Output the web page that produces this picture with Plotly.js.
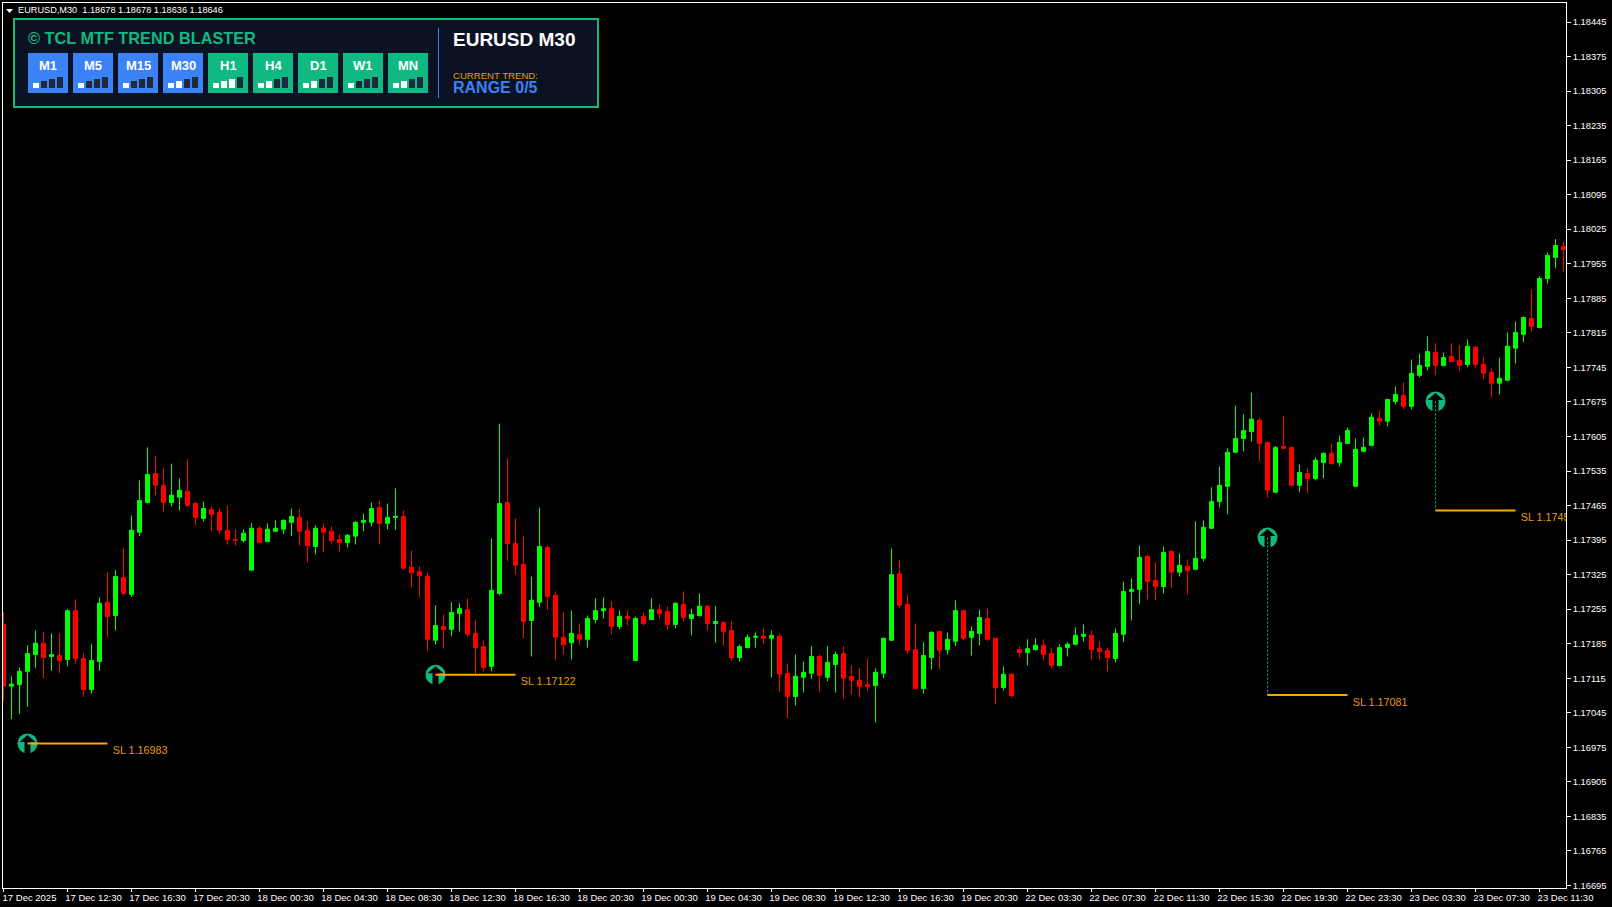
<!DOCTYPE html>
<html><head><meta charset="utf-8">
<script src="https://cdn.plot.ly/plotly-3.0.1.min.js"></script>
<style>html,body{margin:0;padding:0;background:#000;overflow:hidden}#c{width:1612px;height:907px}</style>
</head><body><div id="c"></div>
<script>
const openP=[1.17224,1.17099,1.17102,1.17129,1.17163,1.17186,1.17159,1.17161,1.17153,1.17252,1.17155,1.17092,1.17149,1.17269,1.17242,1.17319,1.17285,1.17411,1.17471,1.17530,1.17506,1.17471,1.17482,1.17494,1.17469,1.17439,1.17457,1.17451,1.17415,1.17396,1.17394,1.17334,1.17419,1.17392,1.17413,1.17417,1.17431,1.17441,1.17415,1.17382,1.17419,1.17413,1.17396,1.17390,1.17403,1.17431,1.17431,1.17461,1.17429,1.17441,
1.17443,1.17340,1.17331,1.17321,1.17192,1.17220,1.17214,1.17246,1.17254,1.17206,1.17179,1.17139,1.17287,1.17471,1.17388,1.17346,1.17232,1.17269,1.17380,1.17283,1.17198,1.17187,1.17204,1.17194,1.17234,1.17252,1.17256,1.17220,1.17240,1.17151,1.17240,1.17234,1.17254,1.17250,1.17224,1.17265,1.17236,1.17242,1.17261,1.17226,1.17228,1.17212,1.17157,1.17177,1.17198,1.17200,1.17196,1.17200,1.17125,1.17078,
1.17117,1.17125,1.17159,1.17117,1.17143,1.17165,1.17119,1.17111,1.17102,1.17100,1.17125,1.17192,1.17327,1.17265,1.17173,1.17094,1.17157,1.17210,1.17173,1.17190,1.17252,1.17198,1.17206,1.17236,1.17196,1.17096,1.17123,1.17173,1.17167,1.17173,1.17182,1.17165,1.17141,1.17177,1.17184,1.17200,1.17202,1.17175,1.17171,1.17155,1.17204,1.17291,1.17295,1.17362,1.17313,1.17301,1.17372,1.17330,1.17342,1.17336,
1.17358,1.17419,1.17473,1.17504,1.17573,1.17601,1.17615,1.17638,1.17593,1.17492,1.17585,1.17583,1.17506,1.17530,1.17520,1.17552,1.17571,1.17552,1.17591,1.17504,1.17575,1.17587,1.17642,1.17636,1.17676,1.17688,1.17666,1.17729,1.17747,1.17775,1.17749,1.17767,1.17759,1.17751,1.17786,1.17751,1.17735,1.17713,1.17719,1.17784,1.17812,1.17844,1.17826,1.17925,1.17968,1.17990];
const highP=[1.17249,1.17119,1.17137,1.17182,1.17212,1.17208,1.17206,1.17206,1.17255,1.17275,1.17165,1.17184,1.17279,1.17330,1.17334,1.17380,1.17445,1.17516,1.17583,1.17565,1.17542,1.17550,1.17520,1.17559,1.17473,1.17473,1.17463,1.17459,1.17465,1.17417,1.17417,1.17429,1.17423,1.17429,1.17435,1.17437,1.17459,1.17457,1.17433,1.17425,1.17429,1.17423,1.17407,1.17407,1.17433,1.17449,1.17471,1.17475,1.17469,1.17500,
1.17455,1.17374,1.17342,1.17329,1.17263,1.17244,1.17269,1.17267,1.17277,1.17234,1.17192,1.17398,1.17631,1.17561,1.17439,1.17404,1.17321,1.17461,1.17384,1.17291,1.17250,1.17252,1.17226,1.17242,1.17277,1.17279,1.17271,1.17252,1.17252,1.17240,1.17248,1.17277,1.17265,1.17261,1.17269,1.17291,1.17256,1.17287,1.17263,1.17261,1.17230,1.17230,1.17183,1.17204,1.17208,1.17218,1.17212,1.17206,1.17145,1.17163,
1.17149,1.17180,1.17163,1.17180,1.17169,1.17180,1.17141,1.17135,1.17155,1.17135,1.17196,1.17378,1.17354,1.17285,1.17226,1.17188,1.17210,1.17210,1.17208,1.17273,1.17254,1.17220,1.17254,1.17256,1.17196,1.17139,1.17125,1.17180,1.17194,1.17196,1.17194,1.17177,1.17184,1.17188,1.17218,1.17224,1.17212,1.17190,1.17177,1.17216,1.17311,1.17317,1.17384,1.17366,1.17350,1.17382,1.17376,1.17368,1.17356,1.17433,
1.17435,1.17502,1.17544,1.17581,1.17668,1.17650,1.17694,1.17642,1.17593,1.17585,1.17646,1.17583,1.17548,1.17542,1.17563,1.17571,1.17591,1.17607,1.17623,1.17601,1.17603,1.17652,1.17658,1.17680,1.17706,1.17715,1.17761,1.17773,1.17808,1.17794,1.17775,1.17794,1.17790,1.17802,1.17788,1.17765,1.17743,1.17765,1.17816,1.17838,1.17848,1.17903,1.17930,1.17978,1.18005,1.18000];
const lowP=[1.17067,1.17032,1.17042,1.17057,1.17136,1.17115,1.17130,1.17125,1.17139,1.17144,1.17077,1.17084,1.17130,1.17198,1.17212,1.17284,1.17280,1.17403,1.17471,1.17486,1.17453,1.17463,1.17455,1.17463,1.17425,1.17433,1.17413,1.17407,1.17386,1.17384,1.17390,1.17334,1.17390,1.17392,1.17413,1.17407,1.17403,1.17384,1.17350,1.17366,1.17370,1.17386,1.17372,1.17380,1.17386,1.17413,1.17423,1.17386,1.17417,1.17415,
1.17335,1.17299,1.17279,1.17171,1.17183,1.17175,1.17200,1.17210,1.17200,1.17123,1.17129,1.17129,1.17283,1.17352,1.17325,1.17196,1.17159,1.17259,1.17254,1.17151,1.17163,1.17153,1.17183,1.17177,1.17226,1.17236,1.17204,1.17214,1.17222,1.17151,1.17222,1.17234,1.17236,1.17214,1.17216,1.17230,1.17202,1.17240,1.17212,1.17187,1.17181,1.17151,1.17149,1.17177,1.17177,1.17185,1.17117,1.17088,1.17034,1.17060,
1.17086,1.17113,1.17086,1.17109,1.17086,1.17074,1.17082,1.17076,1.17090,1.17025,1.17115,1.17190,1.17258,1.17165,1.17094,1.17084,1.17133,1.17133,1.17163,1.17180,1.17192,1.17161,1.17182,1.17190,1.17062,1.17090,1.17076,1.17157,1.17141,1.17171,1.17151,1.17135,1.17139,1.17159,1.17182,1.17190,1.17153,1.17153,1.17129,1.17147,1.17188,1.17232,1.17265,1.17275,1.17273,1.17287,1.17297,1.17321,1.17285,1.17334,
1.17352,1.17417,1.17461,1.17447,1.17571,1.17575,1.17595,1.17554,1.17481,1.17490,1.17579,1.17506,1.17492,1.17490,1.17516,1.17520,1.17548,1.17544,1.17591,1.17504,1.17573,1.17585,1.17627,1.17625,1.17670,1.17660,1.17660,1.17725,1.17739,1.17729,1.17747,1.17757,1.17737,1.17745,1.17743,1.17721,1.17684,1.17690,1.17717,1.17753,1.17796,1.17818,1.17824,1.17915,1.17946,1.17938];
const closeP=[1.17099,1.17103,1.17129,1.17165,1.17186,1.17157,1.17163,1.17151,1.17252,1.17155,1.17092,1.17151,1.17267,1.17240,1.17321,1.17287,1.17415,1.17475,1.17528,1.17506,1.17471,1.17486,1.17496,1.17465,1.17441,1.17459,1.17447,1.17415,1.17396,1.17395,1.17409,1.17419,1.17390,1.17417,1.17419,1.17435,1.17443,1.17413,1.17384,1.17419,1.17411,1.17394,1.17390,1.17405,1.17431,1.17435,1.17459,1.17429,1.17441,1.17443,
1.17338,1.17329,1.17323,1.17194,1.17222,1.17214,1.17248,1.17256,1.17204,1.17177,1.17137,1.17293,1.17469,1.17388,1.17344,1.17230,1.17273,1.17382,1.17281,1.17198,1.17183,1.17206,1.17194,1.17236,1.17252,1.17256,1.17220,1.17240,1.17236,1.17236,1.17226,1.17254,1.17246,1.17224,1.17267,1.17238,1.17244,1.17261,1.17226,1.17230,1.17210,1.17157,1.17179,1.17198,1.17200,1.17196,1.17202,1.17123,1.17078,1.17119,
1.17127,1.17159,1.17121,1.17147,1.17163,1.17115,1.17111,1.17098,1.17098,1.17127,1.17196,1.17325,1.17263,1.17171,1.17094,1.17161,1.17208,1.17171,1.17194,1.17252,1.17196,1.17210,1.17238,1.17194,1.17096,1.17123,1.17080,1.17167,1.17175,1.17182,1.17163,1.17141,1.17177,1.17184,1.17202,1.17204,1.17173,1.17169,1.17157,1.17206,1.17291,1.17295,1.17360,1.17311,1.17301,1.17370,1.17330,1.17344,1.17333,1.17358,
1.17421,1.17473,1.17506,1.17573,1.17601,1.17617,1.17640,1.17591,1.17496,1.17583,1.17581,1.17506,1.17532,1.17520,1.17557,1.17571,1.17550,1.17593,1.17617,1.17579,1.17583,1.17644,1.17636,1.17680,1.17690,1.17666,1.17733,1.17749,1.17777,1.17749,1.17765,1.17757,1.17749,1.17788,1.17751,1.17733,1.17713,1.17723,1.17788,1.17816,1.17846,1.17828,1.17925,1.17972,1.17992,1.17984];

const timeLabels=['17 Dec 2025','17 Dec 12:30','17 Dec 16:30','17 Dec 20:30','18 Dec 00:30','18 Dec 04:30','18 Dec 08:30','18 Dec 12:30','18 Dec 16:30','18 Dec 20:30','19 Dec 00:30','19 Dec 04:30','19 Dec 08:30','19 Dec 12:30','19 Dec 16:30','19 Dec 20:30','22 Dec 03:30','22 Dec 07:30','22 Dec 11:30','22 Dec 15:30','22 Dec 19:30','22 Dec 23:30','23 Dec 03:30','23 Dec 07:30','23 Dec 11:30'];
const timeTicks=[0,8,16,24,32,40,48,56,64,72,80,88,96,104,112,120,128,136,144,152,160,168,176,184,192];
const priceTicks=[1.16695,1.16765,1.16835,1.16905,1.16975,1.17045,1.17115,1.17185,1.17255,1.17325,1.17395,1.17465,1.17535,1.17605,1.17675,1.17745,1.17815,1.17885,1.17955,1.18025,1.18095,1.18165,1.18235,1.18305,1.18375,1.18445];

const signalBars=[3,54,158,179];
const signalPrices=[1.16983,1.17122,1.17400,1.17676];
const stopPrices=[1.16983,1.17122,1.17081,1.17455];
const stopLabels=['SL 1.16983','SL 1.17122','SL 1.17081','SL 1.17455'];

const frames=['M1','M5','M15','M30','H1','H4','D1','W1','MN'];
const frameActive=[1,1,1,2,3,2,2,1,2];
const frameKinds=['range','range','range','range','up','up','up','up','up'];
const barLevels=[5,7,9,11];

const W=1612,H=907,ML=3,MT=3,MR=46,MB=19;
const PW=W-ML-MR,PH=H-MT-MB;
const fx=x=>(x-ML)/PW, fy=y=>1-(y-MT)/PH;
const TEAL='#10b981',BLUE='#3b82f6',ORANGE='#ffa500',PANEL='#0b1224',DARK='#1e293b';
const SANS='"Liberation Sans",Arial,sans-serif';
const xs=openP.map((_,i)=>i);

const traces=[{
  type:'candlestick',x:xs,open:openP,high:highP,low:lowP,close:closeP,
  increasing:{line:{color:'#00ff00',width:1},fillcolor:'#00ff00'},
  decreasing:{line:{color:'#ff0000',width:1},fillcolor:'#ff0000'},
  whiskerwidth:0,hoverinfo:'skip',showlegend:false
}];
signalBars.forEach((b,k)=>{
  traces.push({type:'scatter',mode:'lines',x:[b,b],y:[signalPrices[k],stopPrices[k]],
    line:{color:TEAL,width:1,dash:'2px,2px'},hoverinfo:'skip',showlegend:false});
  traces.push({type:'scatter',mode:'lines',x:[b,b+10],y:[stopPrices[k],stopPrices[k]],
    line:{color:ORANGE,width:2},hoverinfo:'skip',showlegend:false});
});
traces.push({type:'scatter',mode:'text',x:signalBars.map(b=>b+10.65),y:stopPrices.map(p=>p-0.00016),
  text:stopLabels,textposition:'middle right',textfont:{family:SANS,size:10.8,color:'#e69a10'},
  cliponaxis:true,hoverinfo:'skip',showlegend:false});

const shapes=[],ann=[];
signalBars.forEach((b,k)=>{
  const base={xref:'x',yref:'y',xsizemode:'pixel',ysizemode:'pixel',xanchor:b,yanchor:signalPrices[k],layer:'below'};
  shapes.push(Object.assign({type:'circle',x0:-10,x1:10,y0:-10,y1:10,fillcolor:TEAL,line:{width:0}},base));
  shapes.push(Object.assign({type:'path',path:'M 0 8.5 L 8 1.5 L 3 1.5 L 3 -10.5 L -3 -10.5 L -3 1.5 L -8 1.5 Z',fillcolor:'#000',line:{width:0}},base));
});
function rect(x0,y0,x1,y1,fill,line){
  shapes.push({type:'rect',xref:'paper',yref:'paper',x0:fx(x0),x1:fx(x1),y0:fy(y0),y1:fy(y1),fillcolor:fill,
    line:line||{width:0},layer:'above'});
}
function label(x,y,text,size,color,bold,anchor){
  ann.push({xref:'paper',yref:'paper',x:fx(x),y:fy(y),xanchor:anchor||'left',yanchor:'middle',showarrow:false,
    text:bold?'<b>'+text+'</b>':text,font:{family:SANS,size:size,color:color},borderpad:0,borderwidth:0});
}
rect(14,19,598,107,PANEL,{color:TEAL,width:2});
shapes.push({type:'line',xref:'paper',yref:'paper',x0:fx(438.5),x1:fx(438.5),y0:fy(28),y1:fy(98),line:{color:BLUE,width:1},layer:'above'});
label(28,37.5,'© TCL MTF TREND BLASTER',16.3,TEAL,true);
label(453,39,'EURUSD M30',19,'#ffffff',true);
label(453,75.5,'CURRENT TREND:',9.6,'#e69a10',false);
label(453,87,'RANGE 0/5',16,BLUE,true);
frames.forEach((f,k)=>{
  const x0=28+45*k, color=frameKinds[k]==='up'?TEAL:BLUE;
  rect(x0,53,x0+40,93,color);
  label(x0+20,65,f,13,'#ffffff',true,'center');
  barLevels.forEach((h,j)=>{
    rect(x0+5+8*j,88-h,x0+11+8*j,88,j<frameActive[k]?'#ffffff':DARK);
  });
});
shapes.push({type:'path',xref:'paper',yref:'paper',layer:'above',fillcolor:'#fff',line:{width:0},
  path:`M ${fx(6)} ${fy(9)} L ${fx(13)} ${fy(9)} L ${fx(9.5)} ${fy(13)} Z`});
label(18,10.5,'EURUSD,M30\u00a0\u00a01.18678 1.18678 1.18636 1.18646',9.2,'#ffffff',false);

const layout={
  width:W,height:H,margin:{l:ML,r:MR,t:MT,b:MB,pad:0},paper_bgcolor:'#000',plot_bgcolor:'#000',
  showlegend:false,dragmode:false,boxgap:0.5,boxgroupgap:0,shapes:shapes,annotations:ann,
  font:{family:SANS,color:'#fff',size:9.5},
  xaxis:{type:'linear',range:[-0.0625,195.31],tickmode:'array',tickvals:timeTicks,ticktext:timeLabels,
    ticks:'outside',ticklen:3,tickwidth:1,tickcolor:'#fff',tickangle:0,showgrid:false,zeroline:false,
    showline:true,linecolor:'#fff',linewidth:1,mirror:true,rangeslider:{visible:false},
    ticklabelshift:26,ticklabelstandoff:-2,ticklabeloverflow:'allow',tickfont:{family:SANS,size:9.5,color:'#fff'}},
  yaxis:{type:'linear',side:'right',range:[1.166899,1.184835],tickmode:'array',tickvals:priceTicks,
    tickformat:'.5f',ticks:'outside',ticklen:4,tickwidth:1,tickcolor:'#fff',showgrid:false,zeroline:false,
    showline:true,linecolor:'#fff',linewidth:1,mirror:true,ticklabeloverflow:'allow',
    tickfont:{family:SANS,size:9.3,color:'#fff'}}
};
Plotly.newPlot('c',traces,layout,{displayModeBar:false,staticPlot:true});
</script></body></html>
